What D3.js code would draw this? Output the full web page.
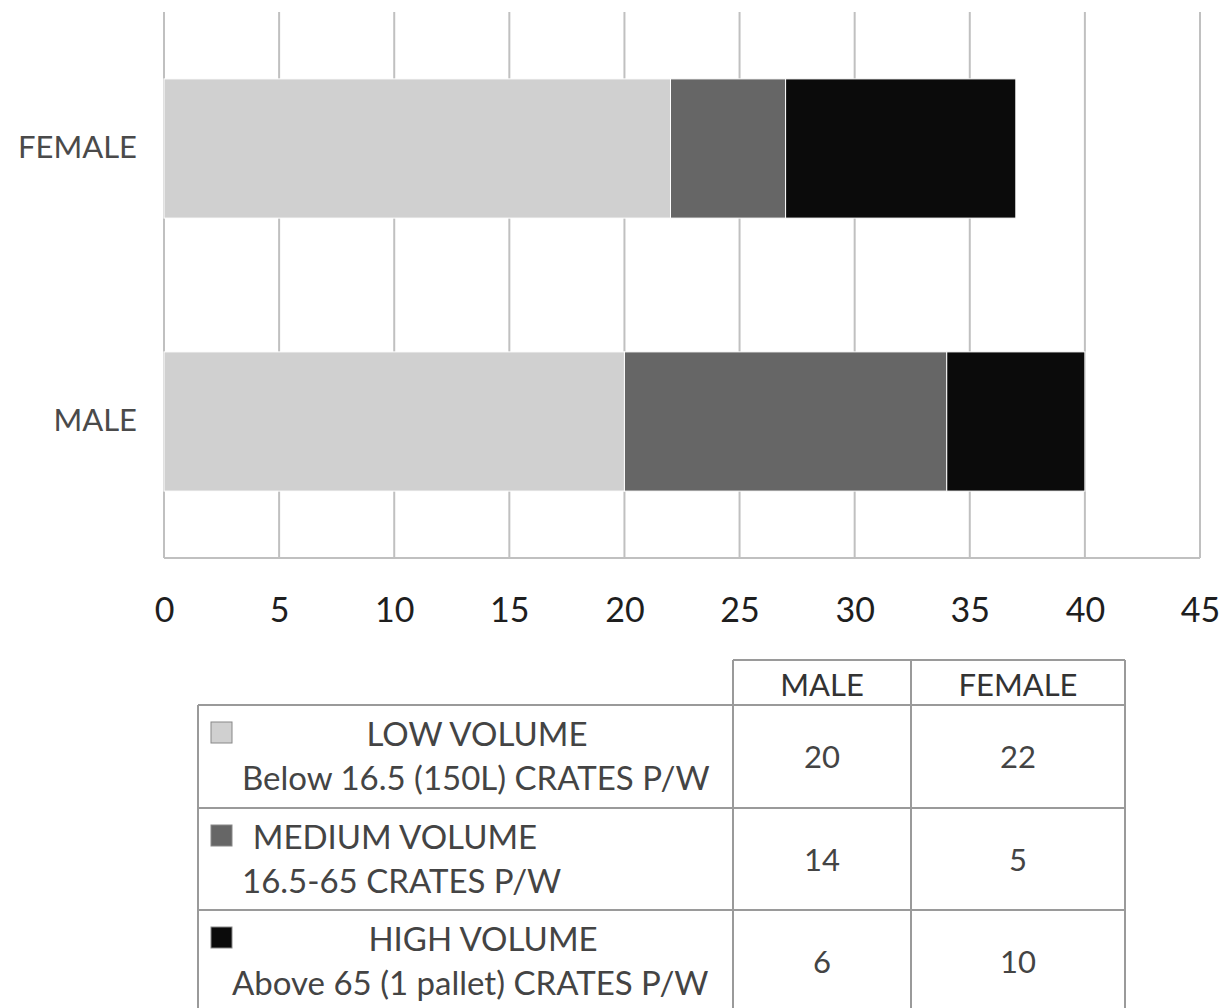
<!DOCTYPE html>
<html><head><meta charset="utf-8">
<script src="https://cdn.jsdelivr.net/npm/d3@7"></script>
<style>body{margin:0;background:#fff}svg{display:block}text{font-family:Lato,"Open Sans",sans-serif}</style>
</head><body><svg id="c" width="1228" height="1008"></svg>
<script>
const categories = ["FEMALE","MALE"];
const seriesNames = ["LOW VOLUME","MEDIUM VOLUME","HIGH VOLUME"];
const seriesSub = ["Below 16.5 (150L) CRATES P/W","16.5-65 CRATES P/W","Above 65 (1 pallet) CRATES P/W"];
const lowVals = [22,20];
const medVals = [5,14];
const highVals = [10,6];
const tickVals = [0,5,10,15,20,25,30,35,40,45];
const colors = ["#d0d0d0","#666666","#0b0b0b"];

const svg = d3.select("#c");
const x = d3.scaleLinear().domain([0,45]).range([164,1200]);
const y = d3.scaleBand().domain(categories).range([12,558]).paddingInner(0.49).paddingOuter(0.245);

// gridlines
svg.append("g").selectAll("line").data(tickVals).join("line")
  .attr("x1",d=>x(d)).attr("x2",d=>x(d)).attr("y1",12).attr("y2",558)
  .attr("stroke","#c0c0c0").attr("stroke-width",2);
svg.append("line").attr("x1",x(0)).attr("x2",x(45)).attr("y1",558).attr("y2",558)
  .attr("stroke","#c0c0c0").attr("stroke-width",2);

const stackData = categories.map((c,i)=>({cat:c, s0:lowVals[i], s1:medVals[i], s2:highVals[i]}));
const stack = d3.stack().keys(["s0","s1","s2"])(stackData);
svg.append("g").selectAll("g").data(stack).join("g").attr("fill",(d,i)=>colors[i])
  .selectAll("rect").data(d=>d).join("rect")
  .attr("x",d=>x(d[0])).attr("width",d=>x(d[1])-x(d[0]))
  .attr("y",d=>y(d.data.cat)).attr("height",y.bandwidth())
  .attr("stroke","#ffffff").attr("stroke-width",1);

// axis
const ax = svg.append("g").attr("transform","translate(0,558)")
  .call(d3.axisBottom(x).tickValues(tickVals).tickSize(0).tickPadding(40));
ax.select(".domain").remove();
ax.selectAll("text").attr("font-size",34).attr("fill","#1e1e1e").attr("font-family","Lato,sans-serif");

const ay = svg.append("g").attr("transform","translate(137,0)")
  .call(d3.axisLeft(y).tickSize(0).tickPadding(0));
ay.select(".domain").remove();
ay.selectAll("text").attr("font-size",31).attr("fill","#4a4a4a").attr("font-family","Lato,sans-serif");

// data table
const tbl = svg.append("g");
const colX = [198,733,911,1125];
const rowY = [660,705,808,910,1013];
const lc = "#9a9a9a";
const ln = (x1,y1,x2,y2)=>tbl.append("line").attr("x1",x1).attr("y1",y1).attr("x2",x2).attr("y2",y2).attr("stroke",lc).attr("stroke-width",2);
ln(colX[1],rowY[0],colX[3],rowY[0]);
[1,2,3].forEach(k=>ln(colX[k],rowY[0],colX[k],rowY[4]));
ln(colX[0],rowY[1],colX[0],rowY[4]);
rowY.slice(1).forEach(v=>ln(colX[0],v,colX[3],v));

const hdr = ["MALE","FEMALE"];
tbl.selectAll(".hdr").data(hdr).join("text").attr("class","hdr")
  .attr("x",(d,i)=>(colX[i+1]+colX[i+2])/2).attr("y",696).attr("text-anchor","middle")
  .attr("font-size",31).attr("fill","#333").text(d=>d);

const all = [lowVals,medVals,highVals];
const nameX = [477,395,483];
const subX = [242,242,232];
seriesNames.forEach((n,i)=>{
  const y0 = rowY[i+1];
  tbl.append("rect").attr("x",211).attr("y",y0+17).attr("width",21).attr("height",21)
    .attr("fill",colors[i]).attr("stroke","#888").attr("stroke-width",1);
  tbl.append("text").attr("x",nameX[i]).attr("y",y0+41).attr("text-anchor","middle")
    .attr("font-size",33).attr("fill","#444").text(n);
  tbl.append("text").attr("x",subX[i]).attr("y",y0+85)
    .attr("font-size",33).attr("fill","#444").text(seriesSub[i]);
  [all[i][1], all[i][0]].forEach((v,j)=>{
    tbl.append("text").attr("x",(colX[j+1]+colX[j+2])/2).attr("y",y0+63).attr("text-anchor","middle")
      .attr("font-size",31).attr("fill","#444").text(v);
  });
});
</script></body></html>
